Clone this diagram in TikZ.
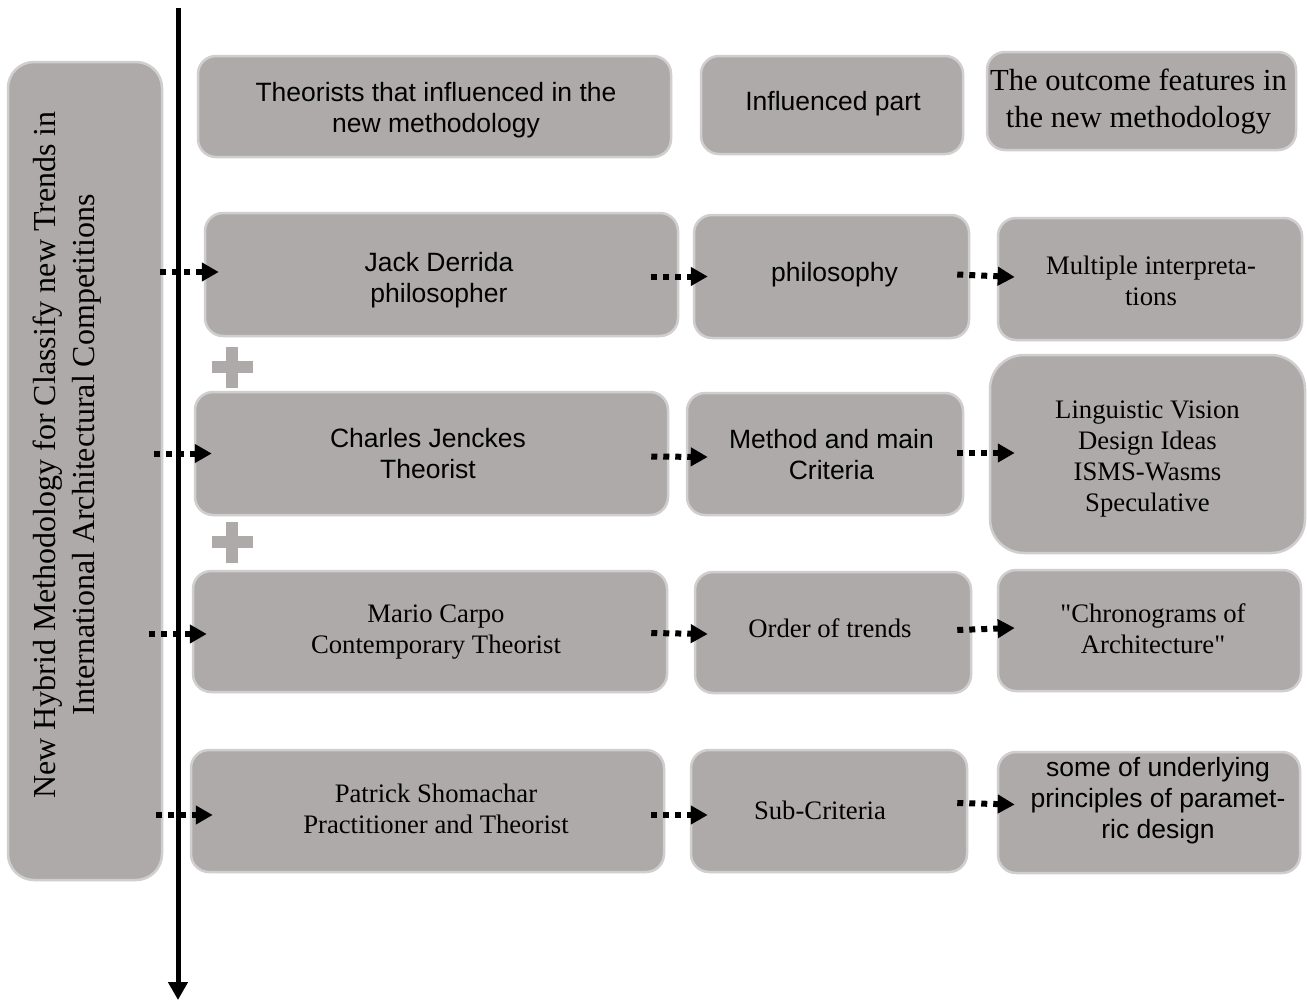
\documentclass[tikz,border=0pt]{standalone}
\usepackage{fontspec}
\setmainfont{Liberation Serif}
\setsansfont{Liberation Sans}
\newfontfamily\plainserif{Liberation Serif}[Ligatures=TeXOff]
\usetikzlibrary{arrows.meta}
\definecolor{boxfill}{HTML}{AEAAAA}
\definecolor{boxline}{HTML}{D0CECE}
\begin{document}
\begin{tikzpicture}[x=1pt,y=-1pt,
  box/.style={draw=boxline,line width=2.5pt,fill=boxfill,rounded corners=18pt,inner sep=0pt,align=center,text=black},
  sansbody/.style={font=\sffamily\fontsize{26.5}{31}\selectfont},
  serifbody/.style={font=\rmfamily\fontsize{26.7}{31}\selectfont},
  plainbody/.style={font=\plainserif\fontsize{26.7}{31}\selectfont},
  dotarrow/.style={line width=6pt,dash pattern=on 6pt off 6pt,-{Triangle[length=17pt,width=18pt]}},
  plusarm/.style={fill=boxfill,draw=none},
  axisline/.style={line width=5pt,-{Triangle[length=18pt,width=19pt]}}]
\useasboundingbox (0,0) rectangle (1307,1001);
\fill[white] (0,0) rectangle (1307,1001);

% axis
\coordinate (axtop) at (178,8);
\coordinate (axbot) at (178,1000);
\draw[axisline] (axtop) -- (axbot);

% left box
\node[box,rounded corners=26pt,minimum width=154,minimum height=818] (lft) at (85,471) {};
\node[rotate=90,align=center,font=\rmfamily\fontsize{32}{38.5}\selectfont] (lfttext) at (67,455)
  {New Hybrid Methodology for Classify new Trends in\\International Architectural Competitions};

% headers
\node[box,minimum width=473,minimum height=101] (h1) at (434.5,106.5) {};
\node[sansbody,align=center] (h1t) at (436,110.5) {Theorists that influenced in the\\new methodology};
\node[box,minimum width=262,minimum height=98] (h2) at (832,105) {};
\node[sansbody] (h2t) at (833,104) {Influenced part};
\node[box,minimum width=309,minimum height=98] (h3) at (1141.5,101) {};
\node[align=center,font=\rmfamily\fontsize{30.6}{37}\selectfont] (h3t) at (1138.5,102) {The outcome features in\\the new methodology};

% row 1
\node[box,minimum width=473,minimum height=123] (r1a) at (441.5,274.5) {};
\node[sansbody,align=center] (r1at) at (439,280) {Jack Derrida\\philosopher};
\node[box,minimum width=275,minimum height=123] (r1b) at (831.5,276.5) {};
\node[sansbody] (r1bt) at (834.5,275) {philosophy};
\node[box,minimum width=304,minimum height=122] (r1c) at (1150,279) {};
\node[serifbody,align=center] (r1ct) at (1151,280.5) {Multiple interpreta-\\tions};

% plus 1
\fill[plusarm] (212,361) rectangle (253,373);
\fill[plusarm] (226,347) rectangle (238,388);

% row 2
\node[box,minimum width=473,minimum height=123] (r2a) at (431.5,453.5) {};
\node[sansbody,align=center] (r2at) at (428,453.5) {Charles Jenckes\\Theorist};
\node[box,minimum width=276,minimum height=122] (r2b) at (825,454) {};
\node[sansbody,align=center] (r2bt) at (831.5,454.5) {Method and main\\Criteria};
\node[box,rounded corners=34pt,minimum width=315,minimum height=198] (r2c) at (1147.5,454) {};
\node[serifbody,align=center] (r2ct) at (1147.5,458.5) {Linguistic Vision\\Design Ideas\\ISMS-Wasms\\Speculative};

% plus 2
\fill[plusarm] (212,536) rectangle (253,548);
\fill[plusarm] (226,522) rectangle (238,563);

% row 3
\node[box,minimum width=474,minimum height=121] (r3a) at (430,631.5) {};
\node[serifbody,align=center] (r3at) at (436,632.5) {Mario Carpo\\Contemporary Theorist};
\node[box,minimum width=276,minimum height=121] (r3b) at (833,632.5) {};
\node[serifbody] (r3bt) at (830,628) {Order of trends};
\node[box,minimum width=303,minimum height=121] (r3c) at (1149.5,630.5) {};
\node[plainbody,align=center] (r3ct) at (1153,628.5) {"Chronograms of\\Architecture"};

% row 4
\node[box,minimum width=473,minimum height=122] (r4a) at (427.5,811) {};
\node[serifbody,align=center] (r4at) at (436,808.5) {Patrick Shomachar\\Practitioner and Theorist};
\node[box,minimum width=276,minimum height=122] (r4b) at (829,811) {};
\node[serifbody] (r4bt) at (820,810) {Sub-Criteria};
\node[box,minimum width=302,minimum height=121] (r4c) at (1149,812.5) {};
\node[sansbody,align=center] (r4ct) at (1158,800.5) {some of underlying\\principles of paramet-\\ric design};

% arrows row 1
\draw[dotarrow] ([xshift=-3,yshift=2.5]lft.east |- r1a.west) -- ([xshift=15,yshift=2.5]r1a.west);
\draw[dotarrow] ([xshift=-28]r1a.east |- r1b.west) -- ([xshift=15]r1b.west);
\draw[dotarrow] ([xshift=-13,yshift=2]r1b.east) -- ([xshift=18,yshift=2]r1c.west);
% arrows row 2
\draw[dotarrow] ([xshift=-9]lft.east |- r2a.west) -- ([xshift=18]r2a.west);
\draw[dotarrow] ([xshift=-18,yshift=-3]r2a.east) -- ([xshift=22,yshift=-3]r2b.west);
\draw[dotarrow] ([xshift=-7,yshift=1]r2b.east) -- ([xshift=26,yshift=1]r2c.west);
% arrows row 3
\draw[dotarrow] ([xshift=-14,yshift=-2.5]lft.east |- r3a.west) -- ([xshift=15,yshift=-2.5]r3a.west);
\draw[dotarrow] ([xshift=-17,yshift=-1.5]r3a.east) -- ([xshift=14,yshift=-1.5]r3b.west);
\draw[dotarrow] ([xshift=-15,yshift=2.5]r3b.east) -- ([xshift=18,yshift=2.5]r3c.west);
% arrows row 4
\draw[dotarrow] ([xshift=-7,yshift=-4]lft.east |- r4a.west) -- ([xshift=23,yshift=-4]r4a.west);
\draw[dotarrow] ([xshift=-14,yshift=-4]r4a.east) -- ([xshift=18,yshift=-4]r4b.west);
\draw[dotarrow] ([xshift=-11,yshift=8]r4b.east) -- ([xshift=18,yshift=8]r4c.west);
\end{tikzpicture}
\end{document}
